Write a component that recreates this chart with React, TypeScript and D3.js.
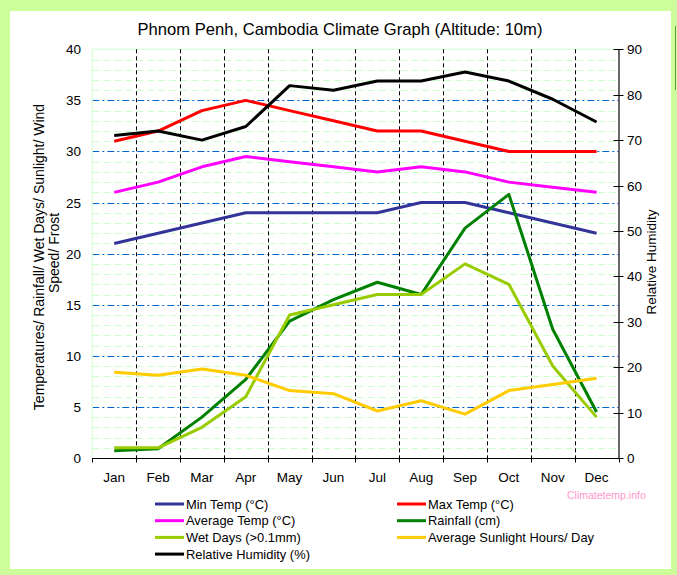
import React from "react";
import * as d3 from "d3";

const months = ["Jan","Feb","Mar","Apr","May","Jun","Jul","Aug","Sep","Oct","Nov","Dec"];
const minTemp = [21, 22, 23, 24, 24, 24, 24, 25, 25, 24, 23, 22];
const maxTemp = [31, 32, 34, 35, 34, 33, 32, 32, 31, 30, 30, 30];
const avgTemp = [26, 27, 28.5, 29.5, 29, 28.5, 28, 28.5, 28, 27, 26.5, 26];
const rainfall = [0.7, 0.9, 4, 7.7, 13.4, 15.5, 17.2, 16, 22.5, 25.8, 12.6, 4.5];
const wetDays = [1, 1, 3, 6, 14, 15, 16, 16, 19, 17, 9, 4];
const sunlight = [8.4, 8.1, 8.7, 8.1, 6.6, 6.3, 4.6, 5.6, 4.3, 6.6, 7.2, 7.8];
const humidity = [71, 72, 70, 73, 82, 81, 83, 83, 85, 83, 79, 74];
const leftTicks = [0, 5, 10, 15, 20, 25, 30, 35, 40];
const rightTicks = [0, 10, 20, 30, 40, 50, 60, 70, 80, 90];

const series = [
  { name: "Min Temp (°C)", values: minTemp, color: "#333399", axis: "L" },
  { name: "Max Temp (°C)", values: maxTemp, color: "#ff0000", axis: "L" },
  { name: "Average Temp (°C)", values: avgTemp, color: "#ff00ff", axis: "L" },
  { name: "Rainfall (cm)", values: rainfall, color: "#008000", axis: "L" },
  { name: "Wet Days (>0.1mm)", values: wetDays, color: "#99cc00", axis: "L" },
  { name: "Average Sunlight Hours/ Day", values: sunlight, color: "#ffcc00", axis: "L" },
  { name: "Relative Humidity (%)", values: humidity, color: "#000000", axis: "R" },
];

const FONT = "Liberation Sans, Arial, sans-serif";

export default function App() {
  const W = 677, H = 575;
  const L = 92.3, R = 618.5, T = 49.3, B = 458;
  const x = d3.scaleBand<string>().domain(months).range([L, R]);
  const yL = d3.scaleLinear().domain([0, 40]).range([B, T]);
  const yR = d3.scaleLinear().domain([0, 90]).range([B, T]);
  const cx = (m: string) => (x(m) as number) + x.bandwidth() / 2;

  const minor = d3.range(1, 40).filter((v) => v % 5 !== 0);
  const major = [5, 10, 15, 20, 25, 30, 35];
  const bounds = months.slice(1).map((m) => x(m) as number);

  return (
    <svg width={W} height={H} style={{ position: "absolute", left: 0, top: 0 }} fontFamily={FONT}>
      <rect x={0} y={0} width={W} height={H} fill="#ccff99" />
      <rect x={10} y={11} width={661} height={558} fill="#ffffff" />
      <line x1={675.5} y1={26} x2={675.5} y2={90} stroke="#669933" strokeWidth={1} />
      <text x={340} y={35} textAnchor="middle" fontSize={16.6} fill="#000">
        Phnom Penh, Cambodia Climate Graph (Altitude: 10m)
      </text>

      {/* grid */}
      {minor.map((v) => (
        <line key={"mn" + v} x1={L} x2={R} y1={Math.round(yL(v)) + 0.5} y2={Math.round(yL(v)) + 0.5}
          stroke="#ccffcc" strokeWidth={1} strokeDasharray="7,4" />
      ))}
      {major.map((v) => (
        <line key={"mj" + v} x1={L} x2={R} y1={Math.round(yL(v)) + 0.5} y2={Math.round(yL(v)) + 0.5}
          stroke="#0066cc" strokeWidth={1} strokeDasharray="7,3,2,3" />
      ))}
      <line x1={L} x2={R} y1={T} y2={T} stroke="#ccffcc" />
      <line x1={L} x2={L} y1={T} y2={B} stroke="#ccffcc" />
      {bounds.map((b, i) => (
        <line key={"vb" + i} x1={Math.round(b) + 0.5} x2={Math.round(b) + 0.5} y1={T} y2={B}
          stroke="#000" strokeWidth={1} strokeDasharray="4,3" />
      ))}

      {/* axes */}
      <line x1={L} x2={R} y1={B + 0.5} y2={B + 0.5} stroke="#000" strokeWidth={1.2} />
      {[L, ...bounds, R].map((b, i) => (
        <line key={"xt" + i} x1={Math.round(b) + 0.5} x2={Math.round(b) + 0.5} y1={B} y2={B + 4.5} stroke="#000" />
      ))}
      <line x1={R + 0.5} x2={R + 0.5} y1={T} y2={B} stroke="#000" strokeWidth={1.2} />
      {rightTicks.map((v) => (
        <g key={"rt" + v}>
          <line x1={R - 5} x2={R + 5} y1={Math.round(yR(v)) + 0.5} y2={Math.round(yR(v)) + 0.5} stroke="#000" />
          <text x={627} y={yR(v) + 5} fontSize={13.5} fill="#000">{v}</text>
        </g>
      ))}
      {leftTicks.map((v) => (
        <text key={"lt" + v} x={81} y={yL(v) + 5} fontSize={13.5} textAnchor="end" fill="#000">{v}</text>
      ))}
      {months.map((m) => (
        <text key={"m" + m} x={cx(m)} y={482} fontSize={13.5} textAnchor="middle" fill="#000">{m}</text>
      ))}

      <text transform={`translate(44,257) rotate(-90)`} fontSize={14} textAnchor="middle" fill="#000">
        Temperatures/ Rainfall/ Wet Days/ Sunlight/ Wind
      </text>
      <text transform={`translate(59,253) rotate(-90)`} fontSize={14} textAnchor="middle" fill="#000">
        Speed/ Frost
      </text>
      <text transform={`translate(656,262) rotate(-90)`} fontSize={13.5} textAnchor="middle" fill="#000">
        Relative Humidity
      </text>

      {/* series */}
      {series.map((s) => {
        const ys = s.axis === "L" ? yL : yR;
        const gen = d3.line<number>().x((_, i) => cx(months[i])).y((d) => ys(d));
        return <path key={s.name} d={gen(s.values) || ""} fill="none" stroke={s.color} strokeWidth={3} strokeLinejoin="round" />;
      })}

      {/* legend */}
      {series.map((s, i) => {
        const col = i === 6 ? 0 : i % 2;
        const row = Math.floor(i / 2);
        const lx = col === 0 ? 155 : 397;
        const ly = 504 + row * 16.7;
        return (
          <g key={"lg" + i}>
            <line x1={lx} x2={lx + 29} y1={ly} y2={ly} stroke={s.color} strokeWidth={3} />
            <text x={lx + 31} y={ly + 4.5} fontSize={12.9} fill="#000">{s.name}</text>
          </g>
        );
      })}
      <text x={567} y={499} fontSize={10.5} fill="#ff99cc">Climatetemp.info</text>
    </svg>
  );
}
